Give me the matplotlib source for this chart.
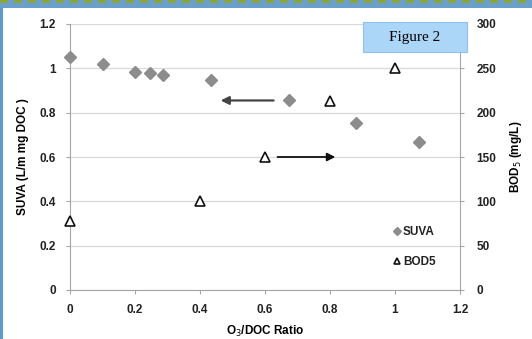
import matplotlib
matplotlib.use("Agg")
import matplotlib.pyplot as plt
from matplotlib.patches import Rectangle
import numpy as np

plt.rcParams["font.family"] = ["Liberation Sans", "DejaVu Sans"]

# SUVA (left axis)
suva_x = [0.0, 0.10, 0.20, 0.245, 0.285, 0.435, 0.675, 0.88, 1.075]
suva_y = [1.05, 1.02, 0.985, 0.98, 0.97, 0.948, 0.857, 0.755, 0.667]

# BOD5 (right axis, mg/L)
bod_x = [0.0, 0.4, 0.6, 0.8, 1.0]
bod_y = [78, 100, 150, 213, 250]

x_ticks = [0, 0.2, 0.4, 0.6, 0.8, 1, 1.2]
x_labels = ["0", "0.2", "0.4", "0.6", "0.8", "1", "1.2"]
left_ticks = [0, 0.2, 0.4, 0.6, 0.8, 1, 1.2]
left_labels = ["0", "0.2", "0.4", "0.6", "0.8", "1", "1.2"]
right_ticks = [0, 50, 100, 150, 200, 250, 300]

GRAY = "#8c8c8c"
AXIS = "#a6a6a6"

fig = plt.figure(figsize=(5.32, 3.39), dpi=100)
fig.patch.set_facecolor("white")

# decorative frame: blue band on top with green dashes, blue left border
fig.add_artist(Rectangle((0, 1 - 8 / 339), 1, 8 / 339, transform=fig.transFigure,
                         facecolor="#6a9fcb", edgecolor="none", zorder=0))
for i in range(0, 532, 14):
    fig.add_artist(Rectangle((i / 532, 1 - 3 / 339), 8 / 532, 3 / 339,
                             transform=fig.transFigure, facecolor="#8aa53a",
                             edgecolor="none", zorder=1))
fig.add_artist(Rectangle((0, 0), 2.5 / 532, 1 - 8 / 339, transform=fig.transFigure,
                         facecolor="#5b9bd0", edgecolor="none", zorder=0))

ax = fig.add_axes([70 / 532, 1 - 290 / 339, 390 / 532, 266 / 339])
ax2 = ax.twinx()

ax.set_xlim(0, 1.2)
ax.set_ylim(0, 1.2)
ax2.set_ylim(0, 300)

for a in (ax, ax2):
    a.set_facecolor("none")
    a.spines["top"].set_visible(False)
ax.spines["right"].set_visible(False)
ax2.spines["left"].set_visible(False)
ax2.spines["bottom"].set_visible(False)
ax.spines["left"].set_color(AXIS)
ax.spines["bottom"].set_color(AXIS)
ax2.spines["right"].set_color(AXIS)

ax.yaxis.grid(True, color="#d9d9d9", linewidth=0.9)
ax.set_axisbelow(True)

ax.set_xticks(x_ticks)
ax.set_xticklabels(x_labels)
ax.set_yticks(left_ticks)
ax.set_yticklabels(left_labels)
ax2.set_yticks(right_ticks)

for a in (ax, ax2):
    a.tick_params(axis="both", colors=AXIS, length=3, labelcolor="#222222",
                  labelsize=8.5, pad=7)
    for lab in a.get_xticklabels() + a.get_yticklabels():
        lab.set_fontweight("bold")
ax2.tick_params(axis="y", pad=9)

ax.plot(suva_x, suva_y, linestyle="none", marker="D", markersize=6.5,
        color=GRAY, markeredgecolor=GRAY, label="SUVA", clip_on=False, zorder=5)
ax2.plot(bod_x, bod_y, linestyle="none", marker="^", markersize=7,
         markerfacecolor="white", markeredgecolor="#111111", markeredgewidth=1.2,
         label="BOD5", clip_on=False, zorder=5)

# arrows indicating the axis for each series
ax.annotate("", xy=(0.455, 0.855), xytext=(0.635, 0.855),
            arrowprops=dict(arrowstyle="-|>", color="#444444", lw=1.6,
                            mutation_scale=12))
ax.annotate("", xy=(0.825, 0.6), xytext=(0.63, 0.6),
            arrowprops=dict(arrowstyle="-|>", color="#111111", lw=1.3,
                            mutation_scale=12))

ax.set_xlabel("O$_3$/DOC Ratio", fontsize=8.5, fontweight="bold", labelpad=6)
ax.set_ylabel("SUVA (L/m mg DOC )", fontsize=8.5, fontweight="bold", labelpad=8)
ax2.set_ylabel("BOD$_5$ (mg/L)", fontsize=8.5, fontweight="bold", labelpad=8)

# legend
h1, l1 = ax.get_legend_handles_labels()
h2, l2 = ax2.get_legend_handles_labels()
leg = ax.legend(h1 + h2, l1 + l2, loc="lower right", bbox_to_anchor=(0.965, 0.043),
                frameon=False, fontsize=8.5, handlelength=0.4, handletextpad=0.3,
                labelspacing=1.55, markerscale=0.6)
for t in leg.get_texts():
    t.set_fontweight("bold")
    t.set_color("#222222")

# "Figure 2" label box
fig.add_artist(Rectangle((363 / 532, 1 - 52 / 339), 104 / 532, 30 / 339,
                         transform=fig.transFigure, facecolor="#abd6f7",
                         edgecolor="#8cc3ee", linewidth=0.8, zorder=10))
fig.text(415 / 532, 1 - 37.5 / 339, "Figure 2", ha="center", va="center",
         fontsize=11, family=["Liberation Serif", "DejaVu Serif"], zorder=11)

fig.savefig("out.png", dpi=100)
